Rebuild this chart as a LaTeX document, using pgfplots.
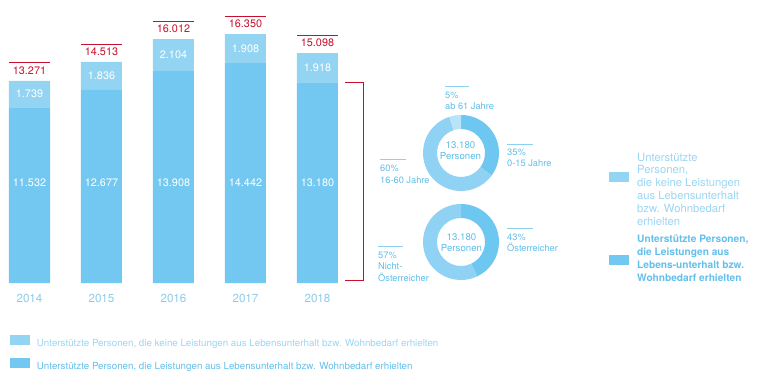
\documentclass[border=0pt]{standalone}
\usepackage{pgfplots}
\pgfplotsset{compat=1.18}
\usepackage{pgfplotstable}
\usepackage{fontspec}
\setmainfont{TeX Gyre Heros}
\usetikzlibrary{calc}
\definecolor{barlow}{RGB}{114,200,240}
\definecolor{bartop}{RGB}{147,212,243}
\definecolor{redline}{RGB}{200,16,46}
\definecolor{yearcol}{RGB}{141,203,235}
\definecolor{donutdark}{RGB}{110,199,240}
\definecolor{donutmid}{RGB}{144,210,243}
\definecolor{donutlight}{RGB}{184,227,248}
\definecolor{labcol}{RGB}{95,190,234}
\definecolor{rulecol}{RGB}{140,208,242}
\definecolor{legA}{RGB}{155,213,242}
\definecolor{legB}{RGB}{98,191,235}
\newcommand{\fs}[2]{\fontsize{#1}{#2}\selectfont}

\pgfplotstableread{
x low top total
0 11532 1739 13271
1 12677 1836 14513
2 13908 2104 16012
3 14442 1908 16350
4 13180 1918 15098
}\bardata

% donut segment: cx cy startpct endpct color
\newcommand{\seg}[5]{%
\fill[#5] ($(axis cs:#1,#2)+({90-3.6*#3}:38bp)$) arc[start angle={90-3.6*#3}, end angle={90-3.6*#4}, radius=38bp]
 -- ($(axis cs:#1,#2)+({90-3.6*#4}:24bp)$) arc[start angle={90-3.6*#4}, end angle={90-3.6*#3}, radius=24bp] -- cycle;}

\newcommand{\barannot}{%
\node[text=white, inner sep=0pt, font=\fs{10.9}{13}] at (axis cs:0,6570) {11.532};
\node[text=white, inner sep=0pt, font=\fs{10.9}{13}] at (axis cs:1,6570) {12.677};
\node[text=white, inner sep=0pt, font=\fs{10.9}{13}] at (axis cs:2,6570) {13.908};
\node[text=white, inner sep=0pt, font=\fs{10.9}{13}] at (axis cs:3,6570) {14.442};
\node[text=white, inner sep=0pt, font=\fs{10.9}{13}] at (axis cs:4,6570) {13.180};
\node[text=white, inner sep=0pt, font=\fs{10.9}{13}] at (axis cs:0,12401.5) {1.739};
\node[text=white, inner sep=0pt, font=\fs{10.9}{13}] at (axis cs:1,13595) {1.836};
\node[text=white, inner sep=0pt, font=\fs{10.9}{13}] at (axis cs:2,14960) {2.104};
\node[text=white, inner sep=0pt, font=\fs{10.9}{13}] at (axis cs:3,15396) {1.908};
\node[text=white, inner sep=0pt, font=\fs{10.9}{13}] at (axis cs:4,14139) {1.918};
\node[text=redline, inner sep=0pt, font=\fs{10.9}{13}] at ([yshift=10.5bp]axis cs:0,13271) {13.271};
\node[text=redline, inner sep=0pt, font=\fs{10.9}{13}] at ([yshift=10.5bp]axis cs:1,14513) {14.513};
\node[text=redline, inner sep=0pt, font=\fs{10.9}{13}] at ([yshift=10.5bp]axis cs:2,16012) {16.012};
\node[text=redline, inner sep=0pt, font=\fs{10.9}{13}] at ([yshift=10.5bp]axis cs:3,16350) {16.350};
\node[text=redline, inner sep=0pt, font=\fs{10.9}{13}] at ([yshift=10.5bp]axis cs:4,15098) {15.098};
\draw[redline, line width=0.9bp] ([yshift=18bp]axis cs:-0.285,13271) -- ([yshift=18bp]axis cs:0.285,13271);
\draw[redline, line width=0.9bp] ([yshift=18bp]axis cs:0.715,14513) -- ([yshift=18bp]axis cs:1.285,14513);
\draw[redline, line width=0.9bp] ([yshift=18bp]axis cs:1.715,16012) -- ([yshift=18bp]axis cs:2.285,16012);
\draw[redline, line width=0.9bp] ([yshift=18bp]axis cs:2.715,16350) -- ([yshift=18bp]axis cs:3.285,16350);
\draw[redline, line width=0.9bp] ([yshift=18bp]axis cs:3.715,15098) -- ([yshift=18bp]axis cs:4.285,15098);
\draw[redline, line width=0.9bp] (axis cs:4.382,13180) -- (axis cs:4.636,13180) -- (axis cs:4.636,197) -- (axis cs:4.382,197);
}

\begin{document}
\begin{tikzpicture}
\path[use as bounding box] (0,0) rectangle (764bp,376bp);
\begin{axis}[
 at={(0.7bp,93bp)}, anchor=south west,
 scale only axis, width=345.6bp, height=274.1bp,
 xmin=-0.4, xmax=4.4, ymin=0, ymax=18000,
 ybar stacked, bar width=41bp,
 axis line style={draw=none},
 major tick length=0pt,
 ytick=\empty,
 xtick=data, xticklabels={2014,2015,2016,2017,2018},
 xticklabel style={anchor=center, yshift=-15.3bp, inner sep=0pt, text=yearcol, font=\fs{11.7}{13}},
 clip=false,
 reverse legend,
 legend style={
  at={(axis description cs:0.0269,-0.1886)}, anchor=north west,
  draw=none, fill=none, inner sep=0pt, outer sep=0pt,
  row sep=10.8bp,
  font=\fs{9.8}{11},
  nodes={inner sep=0pt},
  /tikz/every odd column/.append style={column sep=7bp},
 },
 legend cell align=left,
 legend image code/.code={\fill[#1] (0bp,-1.5bp) rectangle (20bp,8.5bp);},
 after end axis/.code={\barannot},
]
\addplot[fill=barlow, draw=none] table[x=x,y=low]{\bardata};
\addlegendentry{\textcolor{legB}{Unterstützte Personen, die Leistungen aus Lebensunterhalt bzw. Wohnbedarf erhielten}}
\addplot[fill=bartop, draw=none] table[x=x,y=top]{\bardata};
\addlegendentry{\textcolor{legA}{Unterstützte Personen, die keine Leistungen aus Lebensunterhalt bzw. Wohnbedarf erhielten}}
\end{axis}

\begin{axis}[
 at={(0,0)}, anchor=south west,
 scale only axis, width=764bp, height=376bp,
 xmin=0, xmax=764, ymin=0, ymax=376, y dir=reverse,
 hide axis, clip=false,
]
% donut 1: age groups (35 / 60 / 5 %)
\seg{461}{153}{0}{35}{donutdark}
\seg{461}{153}{35}{95}{donutmid}
\seg{461}{153}{95}{100}{donutlight}
% donut 2: citizenship (43 / 57 %)
\seg{461}{242}{0}{43}{donutdark}
\seg{461}{242}{43}{100}{donutmid}

\node[text=labcol, align=center, inner sep=0pt, font=\fs{9.7}{11}] at (axis cs:460.5,150.8) {13.180\\Personen};
\node[text=labcol, align=center, inner sep=0pt, font=\fs{9.7}{11}] at (axis cs:461.5,243) {13.180\\Personen};

\tikzset{dl/.style={text=labcol, align=left, inner sep=0pt, anchor=north west, font=\fs{9.3}{11.5}}}
\draw[rulecol, line width=0.8bp] (axis cs:445,86) -- (axis cs:469,86);
\node[dl] at (axis cs:445,91.6) {5\%\\ab 61 Jahre};
\draw[rulecol, line width=0.8bp] (axis cs:507,144) -- (axis cs:533,144);
\node[dl] at (axis cs:507,148.3) {35\%\\0-15 Jahre};
\draw[rulecol, line width=0.8bp] (axis cs:380,159.3) -- (axis cs:405.7,159.3);
\node[dl] at (axis cs:380,164.9) {60\%\\16-60 Jahre};
\draw[rulecol, line width=0.8bp] (axis cs:507,228.3) -- (axis cs:533,228.3);
\node[dl] at (axis cs:507,233.3) {43\%\\Österreicher};
\draw[rulecol, line width=0.8bp] (axis cs:378,246) -- (axis cs:403,246);
\node[dl] at (axis cs:378,251.6) {57\%\\Nicht-\\Österreicher};

% right legend
\fill[bartop] (axis cs:609,171.7) rectangle (axis cs:629,181.7);
\node[text=legA, align=left, inner sep=0pt, anchor=north west, font=\fs{11.3}{13}] at (axis cs:637,152.6) {Unterstützte\\Personen,\\die keine Leistungen\\aus Lebensunterhalt\\bzw. Wohnbedarf\\erhielten};
\fill[barlow] (axis cs:609,255) rectangle (axis cs:629,265);
\node[text=legB, align=left, inner sep=0pt, anchor=north west, font=\bfseries\fs{10.2}{12.8}] at (axis cs:637,235.3) {Unterstützte Personen,\\die Leistungen aus\\Lebens-unterhalt bzw.\\Wohnbedarf erhielten};
\end{axis}
\end{tikzpicture}
\end{document}
